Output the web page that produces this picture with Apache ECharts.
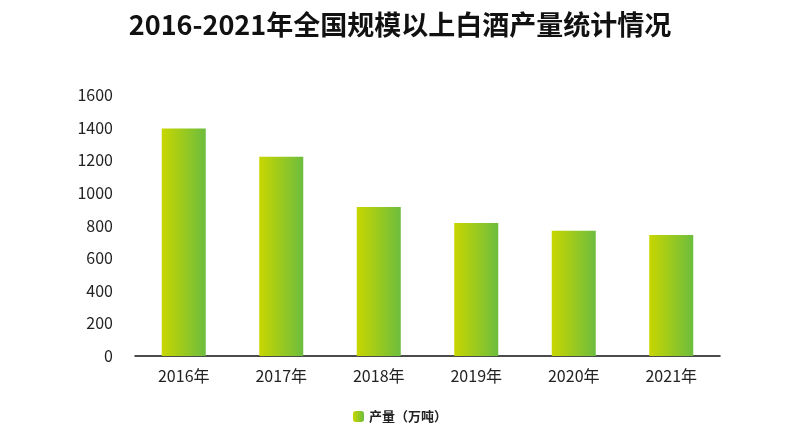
<!DOCTYPE html><html><head><meta charset="utf-8"><script src="https://cdn.jsdelivr.net/npm/echarts@6/dist/echarts.min.js"></script></head><body style="margin:0"><div id="c" style="width:800px;height:440px"></div><script>
const categories=['2016年','2017年','2018年','2019年','2020年','2021年'];
const values=[1395,1222,914,815,768,742];
const c=echarts.init(document.getElementById('c'));
c.setOption({
title:{text:'2016-2021年全国规模以上白酒产量统计情况',left:'center',top:6,textStyle:{fontSize:27,fontWeight:'bold',color:'#111',fontFamily:'Noto Sans CJK SC'}},
grid:{left:135,right:80,top:95,bottom:84},
legend:{bottom:12,itemWidth:11,itemHeight:11,textStyle:{fontSize:13,fontWeight:'bold',color:'#222',fontFamily:'Noto Sans CJK SC'},data:['产量（万吨）']},
xAxis:{type:'category',data:categories,axisLine:{lineStyle:{color:'#111',width:1.5}},axisTick:{show:false},axisLabel:{fontSize:16,color:'#222',margin:12,fontFamily:'Noto Sans CJK SC'}},
yAxis:{type:'value',min:0,max:1600,interval:200,splitLine:{show:false},axisLine:{show:false},axisTick:{show:false},axisLabel:{fontSize:16,color:'#222',margin:22,fontFamily:'Noto Sans CJK SC',formatter:v=>String(v)}},
series:[{name:'产量（万吨）',type:'bar',data:values,barWidth:44,itemStyle:{color:new echarts.graphic.LinearGradient(0,0,1,0,[{offset:0,color:'#c8d600'},{offset:1,color:'#6cbd3e'}])}}]
});
</script></body></html>
